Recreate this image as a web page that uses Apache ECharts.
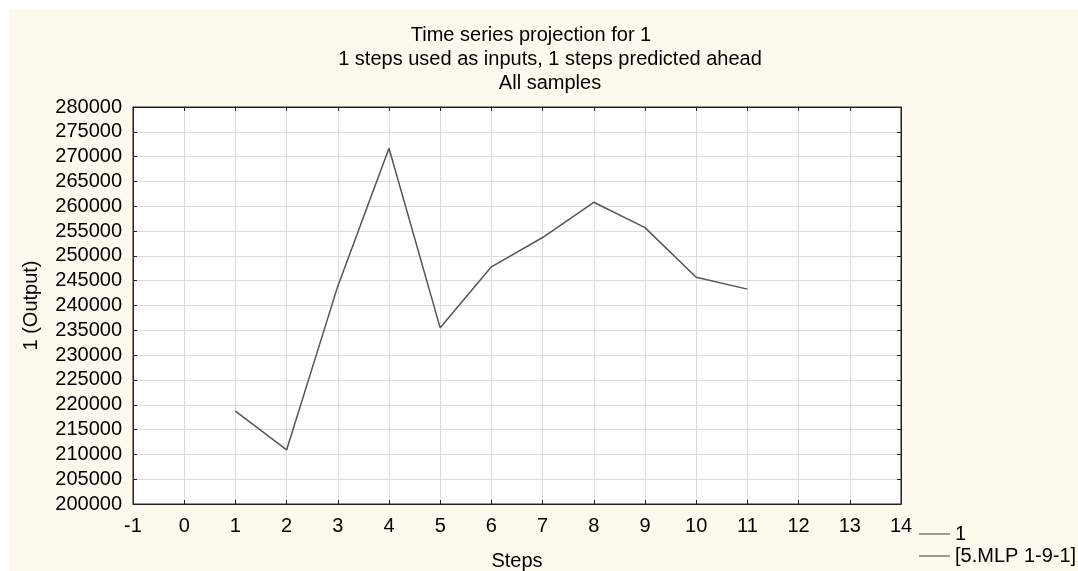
<!DOCTYPE html>
<html>
<head>
<meta charset="utf-8">
<script src="https://cdn.jsdelivr.net/npm/echarts@6/dist/echarts.min.js"></script>
<style>
  html, body { margin: 0; padding: 0; background: #ffffff; }
  #chart { width: 1078px; height: 571px; }
</style>
</head>
<body>
<div id="chart"></div>
<script>
// Steps along the horizontal axis and the observed output at each step
const steps = [1, 2, 3, 4, 5, 6, 7, 8, 9, 10, 11];
const observed = [218700, 210900, 243900, 271700, 235500, 247800, 253700, 260800, 255700, 245700, 243300];
// Network projection (no points plotted for it)
const projected = [];

const titleLines = [
  'Time series projection for 1',
  '1 steps used as inputs, 1 steps predicted ahead',
  'All samples'
];
const seriesNames = ['1', '[5.MLP 1-9-1]'];

const FONT = 'Liberation Sans, Arial, sans-serif';
const FS = 20;
const BG = '#fef9ef';

const chart = echarts.init(document.getElementById('chart'), null, { renderer: 'canvas' });

const xRange = { min: -1, max: 14, interval: 1 };
const yRange = { min: 200000, max: 280000, interval: 5000 };

const legendBase = {
  orient: 'vertical',
  left: 919,
  itemWidth: 31, itemHeight: 1,
  icon: 'rect',
  padding: 0,
  itemStyle: { color: '#3a3a3a' },
  textStyle: { fontSize: FS, color: '#000', fontFamily: FONT }
};

const option = {
  backgroundColor: '#ffffff',
  animation: false,
  textStyle: { fontFamily: FONT },
  graphic: [
    { type: 'rect', z: -10, silent: true, shape: { x: 9, y: 9, width: 1069, height: 562 }, style: { fill: BG } },
    { type: 'text', style: { text: titleLines[0], x: 531, y: 35, align: 'center', verticalAlign: 'middle', font: FS + 'px ' + FONT, fill: '#000' } },
    { type: 'text', style: { text: titleLines[1], x: 550, y: 59, align: 'center', verticalAlign: 'middle', font: FS + 'px ' + FONT, fill: '#000' } },
    { type: 'text', style: { text: titleLines[2], x: 550, y: 83, align: 'center', verticalAlign: 'middle', font: FS + 'px ' + FONT, fill: '#000' } }
  ],
  grid: {
    left: 133, top: 107, right: 177, bottom: 67,
    outerBoundsMode: 'none',
    containLabel: false,
    show: true, backgroundColor: '#ffffff', borderColor: '#222', borderWidth: 1
  },
  legend: [
    Object.assign({}, legendBase, { top: 524, data: [seriesNames[0]] }),
    Object.assign({}, legendBase, { top: 546, data: [seriesNames[1]] })
  ],
  xAxis: [
    {
      type: 'value', position: 'bottom', ...xRange,
      name: 'Steps', nameLocation: 'middle', nameGap: 47,
      nameTextStyle: { fontSize: FS, color: '#000' },
      axisLine: { show: true, onZero: false, lineStyle: { color: '#222', width: 1 } },
      axisTick: { show: true, inside: true, length: 4, lineStyle: { color: '#222' } },
      axisLabel: { fontSize: FS, color: '#000', margin: 12 },
      splitLine: { show: true, lineStyle: { color: '#dcdcdc', width: 1 } }
    },
    {
      type: 'value', position: 'top', ...xRange,
      axisLine: { show: true, onZero: false, lineStyle: { color: '#222', width: 1 } },
      axisTick: { show: true, inside: true, length: 4, lineStyle: { color: '#222' } },
      axisLabel: { show: false },
      splitLine: { show: false }
    }
  ],
  yAxis: [
    {
      type: 'value', position: 'left', ...yRange,
      name: '1 (Output)', nameLocation: 'middle', nameGap: 92, nameRotate: 90,
      nameTextStyle: { fontSize: FS, color: '#000' },
      axisLine: { show: true, onZero: false, lineStyle: { color: '#222', width: 1 } },
      axisTick: { show: true, inside: true, length: 4, lineStyle: { color: '#222' } },
      axisLabel: { fontSize: FS, color: '#000', margin: 11, formatter: v => String(v) },
      splitLine: { show: true, lineStyle: { color: '#dcdcdc', width: 1 } }
    },
    {
      type: 'value', position: 'right', ...yRange,
      axisLine: { show: true, onZero: false, lineStyle: { color: '#222', width: 1 } },
      axisTick: { show: true, inside: true, length: 4, lineStyle: { color: '#222' } },
      axisLabel: { show: false },
      splitLine: { show: false }
    }
  ],
  series: [
    {
      name: seriesNames[0], type: 'line',
      data: steps.map((s, i) => [s, observed[i]]),
      symbol: 'none',
      lineStyle: { color: '#555555', width: 1.5 },
      itemStyle: { color: '#555555' }
    },
    {
      name: seriesNames[1], type: 'line',
      data: projected.map((v, i) => [steps[i], v]),
      symbol: 'none',
      lineStyle: { color: '#666666', width: 1.5 },
      itemStyle: { color: '#666666' }
    }
  ]
};

chart.setOption(option);
</script>
</body>
</html>
